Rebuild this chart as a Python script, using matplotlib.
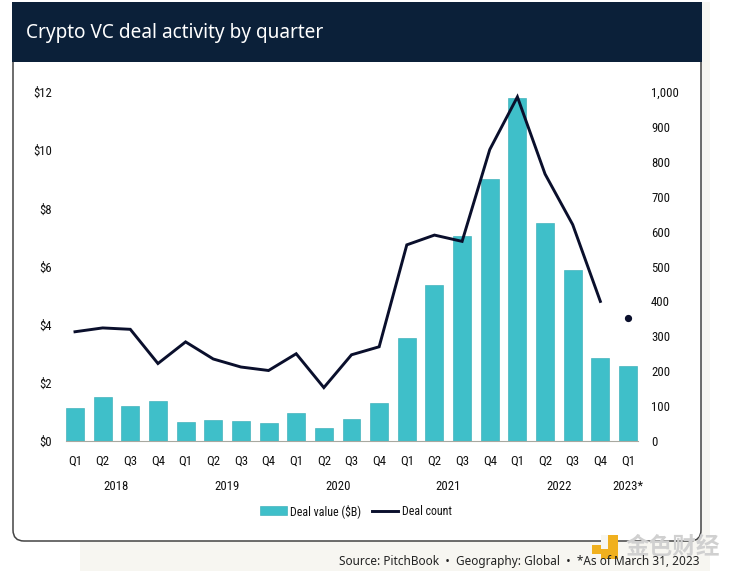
"""Crypto VC deal activity: bars for value, line for count, on a card layout."""
import matplotlib
matplotlib.use("Agg")
import matplotlib.pyplot as plt
from matplotlib import font_manager
from matplotlib.patches import FancyBboxPatch, Rectangle
from matplotlib.lines import Line2D

W, H = 732, 571

quarters = ["Q1", "Q2", "Q3", "Q4"] * 5 + ["Q1"]
years = ["2018", "2019", "2020", "2021", "2022", "2023*"]
year_centers = [1.5, 5.5, 9.5, 13.5, 17.5, 20]
deal_value = [1.13, 1.5, 1.2, 1.37, 0.65, 0.72, 0.68, 0.62, 0.95, 0.45, 0.75, 1.3,
              3.55, 5.37, 7.05, 9.0, 11.78, 7.5, 5.88, 2.87, 2.57]
# last quarter is drawn as a lone dot, not joined to the line
deal_count = [313, 324, 320, 222, 284, 235, 212, 202, 250, 153, 247, 270,
              562, 590, 572, 835, 986, 765, 620, 400]
deal_count_latest = 352
left_ticks = [0, 2, 4, 6, 8, 10, 12]
right_ticks = list(range(0, 1001, 100))

TEAL = "#3fbfc9"
NAVY = "#0b2039"
INK = "#111111"
CREAM = "#f7f6f1"

# the reference ticks are a condensed face; take the narrowest one that is installed
installed = {f.name for f in font_manager.fontManager.ttflist}
NARROW = next(n for n in ["Roboto Condensed", "Open Sans Condensed", "Liberation Sans Narrow",
                          "Lato", "DejaVu Sans"] if n in installed)
TICK_SIZE = 9.2

fig = plt.figure(figsize=(W / 100, H / 100), dpi=100, facecolor="white")

# background layer in pixel coords (y down)
bg = fig.add_axes([0, 0, 1, 1])
bg.set_xlim(0, W); bg.set_ylim(H, 0); bg.axis("off")
bg.add_patch(Rectangle((80, 2), 630, 569, fc=CREAM, ec="none"))
bg.add_patch(FancyBboxPatch((13, 35), 688, 506, boxstyle="round,pad=0,rounding_size=11",
                            fc="white", ec="#444444", lw=1.1))
bg.add_patch(Rectangle((12.4, 2), 689.2, 60, fc=NAVY, ec="none"))
bg.text(26, 33, "Crypto VC deal activity by quarter", color="white", fontsize=13.7,
        family="Noto Sans", va="center", weight="medium")

# watermark sits under the source line
bg.add_patch(Rectangle((592, 545), 9, 9, fc="#f0b01e", ec="none"))
bg.add_patch(Rectangle((601, 535), 17, 24, fc="#f0b01e", ec="none"))
bg.add_patch(Rectangle((601, 535), 7, 14, fc=CREAM, ec="none"))
bg.text(625, 547, "金色财经", color="#d0d0d0", fontsize=17,
        family=["Noto Sans CJK SC", "DejaVu Sans"], va="center", weight="bold")
bg.text(339, 561, "Source: PitchBook  •  Geography: Global  •  *As of March 31, 2023",
        color="#222222", fontsize=8.5, family="Noto Sans", va="center")

ax = fig.add_axes([66 / W, 1 - 441 / H, (638 - 66) / W, (441 - 92) / H])
ax.patch.set_alpha(0)
xs = list(range(len(quarters)))
ax.bar(xs, deal_value, width=0.65, color=TEAL, ec="#2fa9b3", lw=0.4, zorder=2)
ax.set_xlim(-9 / 27.65, 20 + 10 / 27.65)
ax.set_ylim(0, 12)
ax.set_yticks(left_ticks, [f"${v}" for v in left_ticks], family=NARROW, fontsize=TICK_SIZE, color=INK)
ax.set_xticks(xs, quarters, family=NARROW, fontsize=TICK_SIZE, color=INK)
ax.tick_params(axis="both", length=0)
ax.tick_params(axis="x", pad=10)
ax.tick_params(axis="y", pad=10)
for s in ["top", "left", "right"]:
    ax.spines[s].set_visible(False)
ax.spines["bottom"].set_color("#a8a8a0")
ax.spines["bottom"].set_linewidth(0.8)

ax2 = ax.twinx()
ax2.patch.set_alpha(0)
ax2.plot(xs[:-1], deal_count, color="#0a0f2c", lw=2.1, solid_joinstyle="miter", zorder=3)
ax2.plot([xs[-1]], [deal_count_latest], "o", color="#0a0f2c", ms=4.2, zorder=3)
ax2.set_ylim(0, 1000)
ax2.set_yticks(right_ticks, [f"{v:,}" for v in right_ticks], family=NARROW, fontsize=TICK_SIZE, color=INK)
ax2.tick_params(axis="y", length=0, pad=9.4)
for s in ["top", "left", "right", "bottom"]:
    ax2.spines[s].set_visible(False)

for year, c in zip(years, year_centers):
    ax.annotate(year, xy=(c, 0), xycoords=("data", "axes fraction"), xytext=(0, -45),
                textcoords="offset pixels", ha="center", va="center", family=NARROW,
                fontsize=TICK_SIZE, color=INK)

handles = [Rectangle((0, 0), 1, 1, fc=TEAL, ec="#2fa9b3", lw=0.4),
           Line2D([0], [0], color="#0a0f2c", lw=2.1)]
fig.legend(handles, ["Deal value ($B)", "Deal count"], loc="center", ncol=2, frameon=False,
           bbox_to_anchor=(356 / W, 1 - 511 / H), prop={"family": NARROW, "size": 8.6},
           handlelength=2.2, handletextpad=0.3, columnspacing=0.9, handleheight=0.8,
           labelcolor=INK)

fig.savefig("out.png", dpi=100)
